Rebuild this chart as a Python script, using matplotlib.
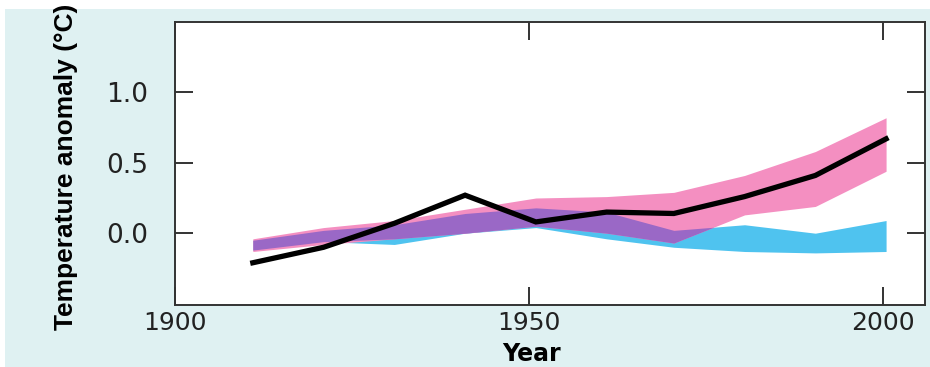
import matplotlib.pyplot as plt
import numpy as np
from matplotlib.patches import Rectangle

# decade means
years = [1911, 1921, 1931, 1941, 1951, 1961, 1970.5, 1980.5, 1990.5, 2000.5]
observed = [-0.21, -0.10, 0.07, 0.27, 0.08, 0.15, 0.14, 0.26, 0.41, 0.67]

# model range, natural + anthropogenic forcing (pink)
all_hi = [-0.04, 0.04, 0.09, 0.17, 0.25, 0.26, 0.29, 0.41, 0.58, 0.82]
all_lo = [-0.13, -0.08, -0.04, 0.00, 0.05, 0.00, -0.07, 0.13, 0.19, 0.44]

# model range, natural forcing only (blue)
nat_hi = [-0.05, 0.02, 0.06, 0.14, 0.18, 0.15, 0.02, 0.06, 0.00, 0.09]
nat_lo = [-0.12, -0.06, -0.08, 0.00, 0.04, -0.04, -0.10, -0.13, -0.14, -0.13]

x_ticks = [1900, 1950, 2000]
y_ticks = [0.0, 0.5, 1.0]

pink = "#f48fc1"
blue = "#4fc3ef"
purple = "#9a68c6"

plt.rcParams['font.family'] = ['DejaVu Sans']

fig = plt.figure(figsize=(9.3, 3.67), dpi=100)
fig.patches.append(Rectangle((5 / 930, 0), 1, 358 / 367, transform=fig.transFigure,
                             facecolor="#dff1f2", edgecolor="none", zorder=-1))
ax = fig.add_axes([175 / 930, 1 - 305 / 367, 750 / 930, 283 / 367])
ax.set_facecolor("white")

x = np.array(years)
ah, al = np.array(all_hi), np.array(all_lo)
nh, nl = np.array(nat_hi), np.array(nat_lo)
ax.fill_between(x, nl, nh, color=blue, lw=0)
ax.fill_between(x, al, ah, color=pink, lw=0)
top = np.minimum(ah, nh)
bot = np.maximum(al, nl)
ax.fill_between(x, bot, top, where=top > bot, interpolate=True, color=purple, lw=0)
ax.plot(x, observed, color="black", lw=3.8, solid_joinstyle="miter")

ax.set_xlim(1900, 2006)
ax.set_ylim(-0.51, 1.5)
ax.set_xticks(x_ticks)
ax.set_yticks(y_ticks)
ax.set_yticklabels(["%.1f" % v for v in y_ticks])
ax.tick_params(direction="in", length=13, width=1.4, color="#333333",
               top=True, right=True, labelcolor="#222222")
ax.tick_params(axis="x", labelsize=18, pad=4)
ax.tick_params(axis="y", labelsize=19, pad=19)
for s in ax.spines.values():
    s.set_linewidth(1.4)
    s.set_color("#333333")

ax.set_xlabel("Year", fontsize=17, fontweight="bold", va="bottom")
ax.xaxis.set_label_coords(0.475, -0.215)
ax.set_ylabel("Temperature anomaly (\u00b0C)", fontsize=19, fontweight="bold",
              family=["Liberation Sans"])
ax.yaxis.set_label_coords(-0.13, 0.49)

fig.savefig("out.png", dpi=100)
